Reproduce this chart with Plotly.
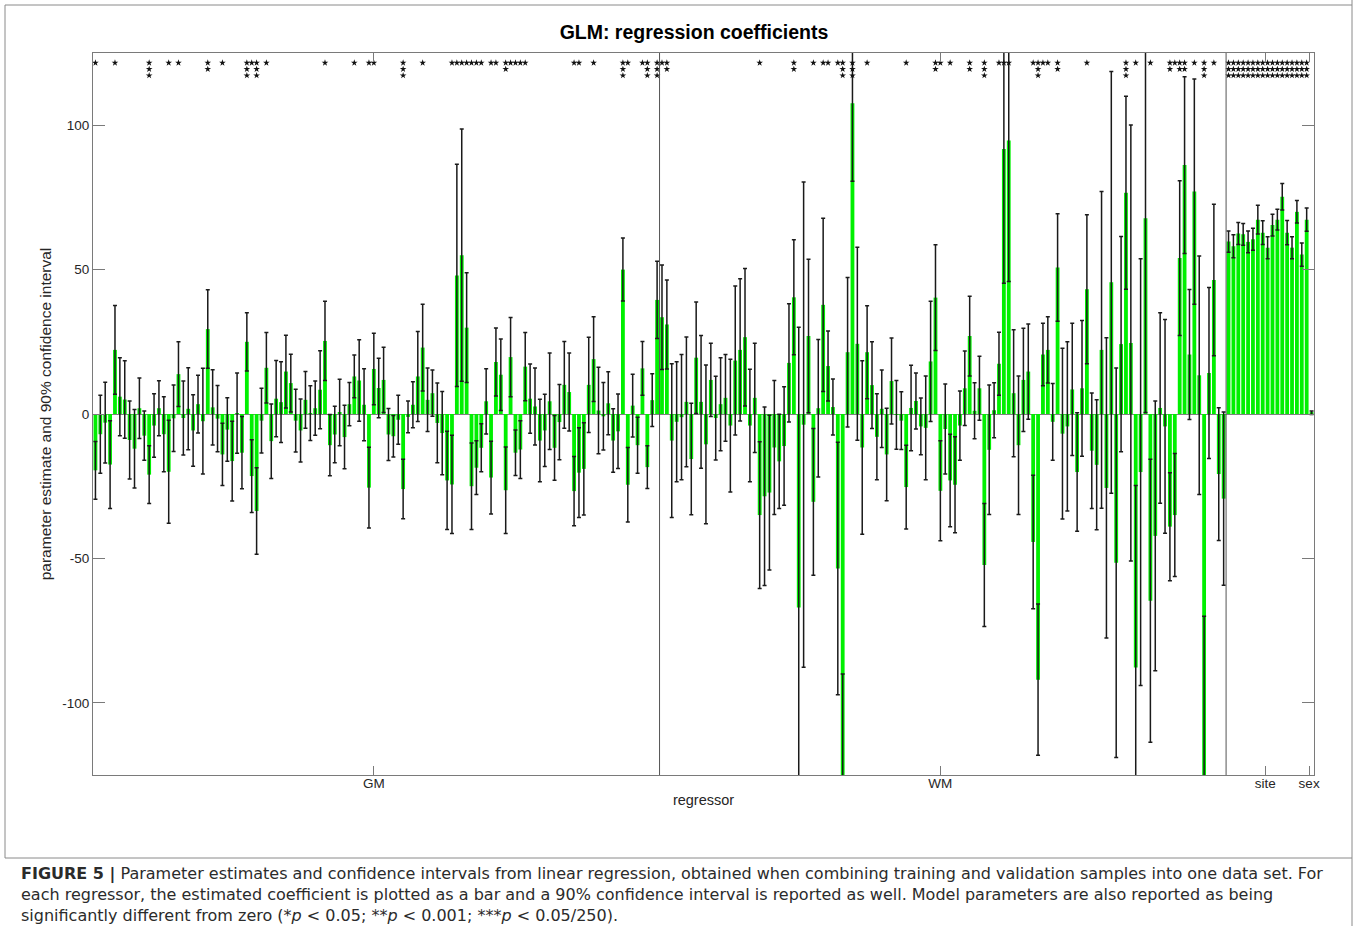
import numpy as np
import plotly.graph_objects as go

# ---------------- data ----------------
group_names = ["GM", "WM", "site", "sex"]

est_gm = [
    -19.5, -7, -3, -17.5, 22.2, 6, 5, -9, -12, 2,
    -7.5, -21, -4, 2, -7, -20, -1.5, 13.8, -1.4, 1.8,
    -5.7, 3.4, -2.5, 29.4, 2.3, -1.6, -14, -5.4, -16.3, 0.3,
    -13.4, 25, -21.5, -33.6, -2.3, 16, -9.4, 5.3, 4.1, 14.7,
    10.7, -2.3, -5.7, 4.9, 0.3, 2, 8.4, 25.3, -10.8, -7.1,
    0.5, -8, 3.4, 13, 11.6, 3.2, -25.5, 15.6, 9, 11.8,
    -7.1, -7.7, -2, -26, -1, 3.2, 13, 23, 4.9, 7.2,
    -3.1, -6.6, -23, -24.4, 48, 55, 29.9, -25, -18.6, -11.7,
    4.4, -22, 18, 13.6, -26.4, 19.7, -13.4, -12.3, 16.4, 5.3,
    2.6, -9.2, -5.7, 4.4, -11.7, -2.8, 10.1, 7.6, -26.7, -20.3,
    -19, 10.1, 19, 1.2, -0.8, 3.7, -9.2, -6, 50, -24.5,
    2.9, -10.8, 15.8, -18.4, 4.8, 39.5,
]
ci_gm = [
    10, 13.5, 14, 15.2, 15.4, 13.5, 13.4, 13.5, 13.6, 10.5,
    8.5, 10, 11, 9.5, 13, 17.8, 11.5, 11.2, 12.8, 14.2,
    12.4, 10, 18.3, 13.6, 13, 11.5, 10.8, 11, 13.8, 13.9,
    12.5, 10.1, 12.6, 15, 11.2, 12.2, 12.9, 13.2, 14, 12.6,
    10, 10.9, 10.9, 9.8, 9.5, 9.4, 13.5, 13.7, 10.6, 9.8,
    11.5, 11, 7.5, 7.4, 14.1, 12.5, 14, 12.4, 10.3, 11.3,
    9, 7.2, 8.5, 10.3, 5.5, 8, 15.6, 15, 11, 8,
    13.8, 14.4, 17, 17, 38.5, 43.7, 19, 15, 9.3, 8.3,
    11.3, 12.6, 11.8, 12.4, 15, 13.7, 7.9, 10, 11.8, 12,
    13.3, 14.3, 12.5, 16.7, 11.2, 13, 15, 13.5, 12, 15.5,
    16, 16.5, 14.7, 15, 11.7, 10.9, 11, 12.9, 10.9, 12.9,
    10.9, 9.7, 9.3, 7.4, 9.1, 13.4,
]
stars_gm = [
    1, 0, 0, 0, 1, 0, 0, 0, 0, 0,
    0, 3, 0, 0, 0, 1, 0, 1, 0, 0,
    0, 0, 0, 2, 0, 0, 1, 0, 0, 0,
    0, 3, 1, 3, 0, 1, 0, 0, 0, 0,
    0, 0, 0, 0, 0, 0, 0, 1, 0, 0,
    0, 0, 0, 1, 0, 0, 1, 1, 0, 0,
    0, 0, 0, 3, 0, 0, 0, 1, 0, 0,
    0, 0, 0, 1, 1, 1, 1, 1, 1, 1,
    0, 1, 1, 0, 2, 1, 1, 1, 1, 0,
    0, 0, 0, 0, 0, 0, 0, 0, 1, 1,
    0, 0, 1, 0, 0, 0, 0, 0, 3, 1,
    0, 0, 1, 3, 0, 3,
]

est_wm = [
    33.5, 31, -9.2, -2.7, -1.1, 4.2, -15.6, 19.5, 4.2, -10.5,
    11.8, -1.4, 3.4, 5.6, -4, 18.5, 22.2, 26.6, -4, 5.6,
    -35, -28.5, -27.2, -11.6, -16.4, -11.1, 17.7, 40.4, -67, -3.7,
    27, -30.4, 2, 37.8, 16.6, 2.4, -53.5, -135, 21.4, 107.6,
    24.3, -11.6, 21.4, 10, -7.9, 1.8, -14, 11.4, -0.3, -2.3,
    -25.3, 2.1, 4.5, -4.3, -4.8, 18.2, 40.3, -26.6, -5.2, -23,
    -24.5, -4, 8.9, 27, 1.1, 8.9, -52.3, -12.4, 1.3, 17.4,
    91.8, 94.7, 7.2, -10.8, 11.8, 14.7, -44.3, -92, 20.6, 22.2,
    -2.7, 50.7, -6.8, -4.3, 8.5, -20.1, 8.9, 43.2, -12.7, -17.6,
    22.2, -25.6, 45.6, -51.5, 24.2, 76.6, 24.6, -87.8, -20.1, 67.8,
    -64.7, -42.2, 2.1, -4.3, -39, -35, 54, 86.2, 20.6, 77,
    13.4, -140, 14.2, 46.4, -20.8, -29.3,
]
ci_wm = [
    18.1, 15.4, 26.6, 20.8, 21.7, 22.5, 19.3, 19.3, 23, 27.5,
    12.7, 14.5, 16.1, 15, 23, 25.8, 24.6, 23.8, 19.5, 18.9,
    25.4, 30.9, 26.8, 23.2, 16.3, 20.5, 20.5, 19.9, 97, 84,
    26.6, 25.4, 23.8, 30, 12.1, 9.7, 43.7, 45, 25.9, 27,
    33.4, 30, 16.1, 15, 14.9, 13.4, 16, 14.9, 11.9, 10,
    14.5, 14.8, 9.7, 9.8, 18, 20.8, 18.3, 17.3, 15.6, 16,
    16.6, 12, 12.9, 13.8, 9.7, 11.1, 21.3, 22.4, 9.5, 10.9,
    46.5, 48.8, 22, 24, 17.9, 16.5, 23.1, 26.2, 10.8, 11.5,
    13.3, 18.6, 29.6, 29.3, 22.9, 20.5, 23.5, 25.8, 20, 22.5,
    54.8, 52, 73, 67.4, 37.3, 33.4, 75.5, 63, 73.9, 67.3,
    49, 46.7, 33, 37, 18.7, 21.3, 26.8, 30.6, 22.5, 39,
    41.3, 70, 29.6, 26.2, 23, 30,
]
stars_wm = [
    1, 2, 0, 0, 0, 0, 0, 0, 0, 0,
    0, 0, 0, 0, 0, 0, 0, 0, 0, 0,
    1, 0, 0, 0, 0, 0, 0, 2, 0, 0,
    0, 1, 0, 1, 1, 0, 1, 3, 0, 3,
    0, 0, 1, 0, 0, 0, 0, 0, 0, 0,
    1, 0, 0, 0, 0, 0, 2, 1, 0, 1,
    0, 0, 0, 2, 0, 0, 3, 0, 0, 1,
    1, 1, 0, 0, 0, 0, 1, 3, 1, 1,
    0, 2, 0, 0, 0, 0, 0, 1, 0, 0,
    0, 0, 0, 0, 0, 3, 0, 1, 0, 0,
    1, 0, 0, 0, 2, 1, 2, 2, 0, 1,
    0, 3, 0, 1, 0, 0,
]

est_site = [59.7, 58.1, 62.5, 62.2, 59.6, 60.5, 67.3, 62.8, 57.6,
            65.4, 67.3, 75.2, 62.8, 57.6, 70.0, 55.2, 67.3]
ci_site = [3.7, 4.0, 3.8, 3.8, 3.8, 3.8, 5.0, 4.1, 3.8,
           3.8, 3.6, 4.6, 4.2, 3.8, 3.9, 4.0, 4.0]
stars_site = [3] * 17

est_sex = [0.4]
ci_sex = [0.6]
stars_sex = [0]

y_tick_vals = [-100, -50, 0, 50, 100]
y_tick_text = ["-100", "-50", "0", "50", "100"]

# ---------------- assemble ----------------
est = est_gm + est_wm + est_site + est_sex
ci = ci_gm + ci_wm + ci_site + ci_sex
stars = stars_gm + stars_wm + stars_site + stars_sex
sizes = np.array([len(est_gm), len(est_wm), len(est_site), len(est_sex)])
pos = np.arange(1, len(est) + 1)
cum = np.cumsum(sizes)
starts = cum - sizes
tick_pos = starts + sizes / 2.0

# style constants
GREEN = "#00f000"
STAR_TOP = 121.6
STAR_STEP = 2.2
LINE_GRAY = "#7a7a7a"
FONT = "Liberation Sans, Arial, sans-serif"
W, H = 1360, 926
L, R, T, B = 93, 1314, 53, 775

fig = go.Figure()
fig.add_trace(go.Bar(
    x=pos, y=est, width=0.78,
    marker=dict(color=GREEN, line=dict(width=0)),
    error_y=dict(type="data", array=ci, symmetric=True,
                 color="#1a1a1a", thickness=1.5, width=2),
    showlegend=False, hoverinfo="x+y",
))

stars_arr = np.array(stars)
for k in (1, 2, 3):
    sel = pos[stars_arr >= k]
    fig.add_trace(go.Scatter(
        x=sel, y=[STAR_TOP - (k - 1) * STAR_STEP] * len(sel),
        mode="markers",
        marker=dict(symbol="star", size=5, color="#111111", line=dict(width=0)),
        showlegend=False, hoverinfo="skip",
    ))

# separators between GM / WM / site
for b in cum[:2]:
    fig.add_shape(type="line", xref="x", yref="paper",
                  x0=b + 0.5, x1=b + 0.5, y0=0, y1=1,
                  line=dict(color="#555555", width=1))

def px(xp):
    return (xp - L) / (R - L)
def py(yp):
    return (B - yp) / (B - T)

# outer frame of the chart image and caption area
frame = dict(color="#8a8a8a", width=1)
fig.add_shape(type="line", xref="paper", yref="paper", x0=px(5), x1=px(1352), y0=py(5), y1=py(5), line=frame)
fig.add_shape(type="line", xref="paper", yref="paper", x0=px(5), x1=px(5), y0=py(5), y1=py(858), line=frame)
fig.add_shape(type="line", xref="paper", yref="paper", x0=px(5), x1=px(1352), y0=py(858), y1=py(858), line=frame)
fig.add_shape(type="line", xref="paper", yref="paper", x0=px(1352), x1=px(1352), y0=py(0), y1=py(926), line=frame)

caption = (
    "<b>FIGURE 5 |</b> Parameter estimates and confidence intervals from linear regression, "
    "obtained when combining training and validation samples into one data set. For<br>"
    "each regressor, the estimated coefficient is plotted as a bar and a 90% confidence interval "
    "is reported as well. Model parameters are also reported as being<br>"
    "significantly different from zero (*<i>p</i> &lt; 0.05; **<i>p</i> &lt; 0.001; "
    "***<i>p</i> &lt; 0.05/250)."
)
fig.add_annotation(text=caption, xref="paper", yref="paper",
                   x=px(19), y=py(862), xanchor="left", yanchor="top",
                   align="left", showarrow=False,
                   font=dict(family="DejaVu Sans, sans-serif", size=16, color="#2b2b2b"))

fig.update_layout(
    width=W, height=H,
    margin=dict(l=L, r=W - R, t=T, b=H - B),
    paper_bgcolor="white", plot_bgcolor="white",
    font=dict(family=FONT, size=13, color="#262626"),
    bargap=0.2,
    title=dict(text="<b>GLM: regression coefficients</b>",
               x=px(694), xref="paper", xanchor="center",
               y=1 - 32 / H, yref="container", yanchor="middle",
               font=dict(family=FONT, size=19.5, color="#000000")),
)
fig.update_xaxes(
    range=[0.5, len(est) + 0.5],
    tickmode="array", tickvals=tick_pos, ticktext=group_names,
    ticks="inside", ticklen=9, tickcolor=LINE_GRAY,
    showline=True, linecolor=LINE_GRAY, linewidth=1, mirror="ticks",
    showgrid=False, zeroline=False, ticklabelstandoff=-4,
    tickfont=dict(size=13.5, color="#262626"),
    title=dict(text="regressor", standoff=4, font=dict(size=14.5, color="#262626")),
)
fig.update_yaxes(
    range=[-125, 125],
    tickmode="array", tickvals=y_tick_vals, ticktext=y_tick_text,
    ticks="inside", ticklen=12, tickcolor=LINE_GRAY,
    showline=True, linecolor=LINE_GRAY, linewidth=1, mirror="ticks",
    showgrid=False, zeroline=True, zerolinecolor="#808080", zerolinewidth=1,
    tickfont=dict(size=13.5, color="#262626"),
    title=dict(text="parameter estimate and 90% confidence interval", standoff=6,
               font=dict(size=15.5, color="#262626")),
)

fig.write_html("out.html", config={"displayModeBar": False},
               post_script="document.body.style.margin='0px';document.body.style.overflow='hidden';")
